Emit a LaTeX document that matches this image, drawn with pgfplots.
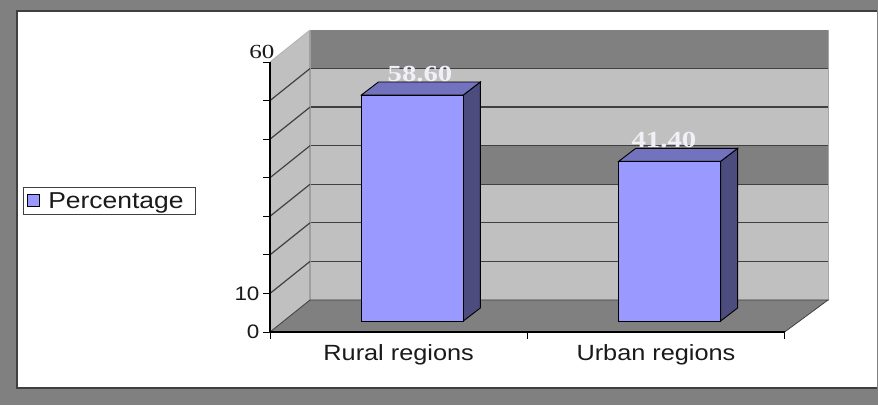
\documentclass[border=0pt]{standalone}
\usepackage{fontspec}
\setmainfont{Liberation Sans}[FakeStretch=1.15]
\newfontfamily\serifnum{Liberation Serif}[FakeStretch=1.25]
\newfontfamily\serifbold{Liberation Serif Bold}[FakeStretch=1.25]
\usepackage{pgfplots}
\pgfplotsset{compat=1.18}
\usepackage{pgfplotstable}

\definecolor{framegray}{HTML}{808080}
\definecolor{borderdark}{HTML}{404040}
\definecolor{walllight}{HTML}{C0C0C0}
\definecolor{walldark}{HTML}{808080}
\definecolor{barfront}{HTML}{9999FF}
\definecolor{barside}{HTML}{4C4C7E}
\definecolor{bartop}{HTML}{7272BE}
\definecolor{gridc}{HTML}{404040}
\definecolor{txt}{HTML}{1A1A1A}
\definecolor{vallight}{HTML}{F0F0F6}

% data: category position, value, label x position
\pgfplotstableread{
cat v lx
0 58.60 0.083
1 41.40 1.031
}\data
\pgfplotstablegetelem{0}{v}\of\data \edef\vA{\pgfplotsretval}
\pgfplotstablegetelem{1}{v}\of\data \edef\vB{\pgfplotsretval}

% corner offsets of the 3-D bar faces (px: x offset, py: depth rise, ph: 0=base 1=top)
\pgfplotstableread{
px py ph
-0.198 0 0
0.198 0 0
0.198 0 1
-0.198 0 1
}\tfront
\pgfplotstableread{
px py ph
0.198 0 0
0.264 3.37 0
0.264 3.37 1
0.198 0 1
}\tside
\pgfplotstableread{
px py ph
-0.198 0 1
0.198 0 1
0.264 3.37 1
-0.132 3.37 1
}\ttop

\newcommand\barthreed[2]{%
  \addplot[forget plot, fill=barside, draw=black, line width=0.9pt]
    table[x expr=#1+0.0533+\thisrow{px}, y expr=2.85+\thisrow{py}+#2*\thisrow{ph}] {\tside} -- cycle;
  \addplot[forget plot, fill=bartop, draw=black, line width=0.9pt]
    table[x expr=#1+0.0533+\thisrow{px}, y expr=2.85+\thisrow{py}+#2*\thisrow{ph}] {\ttop} -- cycle;
  \addplot[forget plot, fill=barfront, draw=black, line width=0.9pt]
    table[x expr=#1+0.0533+\thisrow{px}, y expr=2.85+\thisrow{py}+#2*\thisrow{ph}] {\tfront} -- cycle;
}

\begin{document}
\begin{tikzpicture}[x=1pt,y=1pt]
\path[use as bounding box] (0,0) rectangle (878,405);
\fill[framegray] (0,0) rectangle (878,405);
\fill[white] (17,17) rectangle (877,394);
\draw[borderdark, line width=1.5pt] (877,394) -- (17,394) -- (17,17) -- (877,17);
\begin{axis}[
  at={(270pt,73pt)}, anchor=south west,
  scale only axis, width=558pt, height=302pt,
  xmin=-0.5, xmax=1.6686, ymin=0, ymax=78.3,
  clip=false,
  axis line style={draw=none},
  tick align=outside, xtick pos=bottom, ytick pos=left,
  major tick length=7pt,
  tick style={draw=black, line width=0.9pt},
  /pgf/number format/assume math mode=true,
  tick label style={font=\fontsize{19.5}{21}\selectfont, text=txt},
  xtick={-0.5,0.5,1.5}, xticklabels={{},{},{}},
  extra x ticks={0,1},
  extra x tick labels={Rural regions,Urban regions},
  extra x tick style={tick style={draw=none},
     xticklabel style={font=\fontsize{22}{24}\selectfont, text=txt, yshift=-2pt}},
  ytick={0,10,...,60}, yticklabels={0,10,{},{},{},{},{}},
  extra y ticks={70}, extra y tick labels={60},
  extra y tick style={yticklabel style={font=\serifnum\fontsize{20}{21}\selectfont, text=txt, xshift=15pt, yshift=10pt}},
  legend style={at={(axis description cs:-0.4427,0.3874)}, anchor=south west,
     draw=borderdark, line width=1pt, font=\fontsize{23}{25}\selectfont, text=txt,
     inner xsep=4pt, inner ysep=3pt, nodes={inner xsep=8pt}},
  legend cell align=left,
]
% back wall
\addplot[forget plot, fill=walllight, draw=gray!70] coordinates {(-0.3445,8.3) (1.6686,8.3) (1.6686,78.3) (-0.3445,78.3)} -- cycle;
\addplot[forget plot, fill=walldark, draw=none] coordinates {(-0.3445,68.3) (1.6686,68.3) (1.6686,78.3) (-0.3445,78.3)} -- cycle;
\addplot[forget plot, fill=walldark, draw=none] coordinates {(0.316,38.3) (1.6686,38.3) (1.6686,48.3) (0.316,48.3)} -- cycle;
% back gridlines
\addplot[forget plot, gridc, line width=1.3pt] coordinates {(-0.3445,18.3) (1.6686,18.3)};
\addplot[forget plot, gridc, line width=1.3pt] coordinates {(-0.3445,28.3) (1.6686,28.3)};
\addplot[forget plot, gridc, line width=1.3pt] coordinates {(-0.3445,38.3) (1.6686,38.3)};
\addplot[forget plot, gridc, line width=1.3pt] coordinates {(-0.3445,48.3) (1.6686,48.3)};
\addplot[forget plot, gridc, line width=1.3pt] coordinates {(-0.3445,58.3) (1.6686,58.3)};
\addplot[forget plot, gridc, line width=1.3pt] coordinates {(-0.3445,68.3) (1.6686,68.3)};
% left wall
\addplot[forget plot, fill=walllight, draw=none] coordinates {(-0.5,0) (-0.5,70) (-0.3445,78.3) (-0.3445,8.3)} -- cycle;
\addplot[forget plot, gray!75, line width=1.2pt] coordinates {(-0.3445,8.3) (-0.3445,78.3)};
\addplot[forget plot, gray!60, line width=0.8pt] coordinates {(-0.5,70) (-0.3445,78.3)};
\addplot[forget plot, gridc, line width=1.2pt] coordinates {(-0.5,10) (-0.3445,18.3)};
\addplot[forget plot, gridc, line width=1.2pt] coordinates {(-0.5,20) (-0.3445,28.3)};
\addplot[forget plot, gridc, line width=1.2pt] coordinates {(-0.5,30) (-0.3445,38.3)};
\addplot[forget plot, gridc, line width=1.2pt] coordinates {(-0.5,40) (-0.3445,48.3)};
\addplot[forget plot, gridc, line width=1.2pt] coordinates {(-0.5,50) (-0.3445,58.3)};
\addplot[forget plot, gridc, line width=1.2pt] coordinates {(-0.5,60) (-0.3445,68.3)};
\addplot[forget plot, black, line width=1.2pt] coordinates {(-0.5,0) (-0.5,70)};
% floor
\addplot[forget plot, fill=walldark, draw=borderdark, line width=0.8pt] coordinates {(-0.5,0) (1.5,0) (1.6686,8.3) (-0.3445,8.3)} -- cycle;
\addplot[forget plot, black, line width=1.2pt] coordinates {(-0.5,0) (1.5,0)};
% bars
\barthreed{0}{\vA}
\barthreed{1}{\vB}
% value labels
\addplot[forget plot, only marks, mark=none, point meta=explicit,
  nodes near coords={\pgfmathprintnumber[fixed,fixed zerofill,precision=2]{\pgfplotspointmeta}},
  nodes near coords align=above,
  every node near coord/.style={font=\serifbold\fontsize{23}{24}\selectfont, text=vallight, inner sep=0pt, anchor=south}]
  table[x=lx, y expr=\thisrow{v}+6.22, meta=v] {\data};
% legend
\addlegendimage{legend image code/.code={\draw[fill=barfront, draw=black, line width=0.8pt] (2pt,-6pt) rectangle (14pt,6pt);}}
\addlegendentry{Percentage}
\end{axis}
\end{tikzpicture}
\end{document}
